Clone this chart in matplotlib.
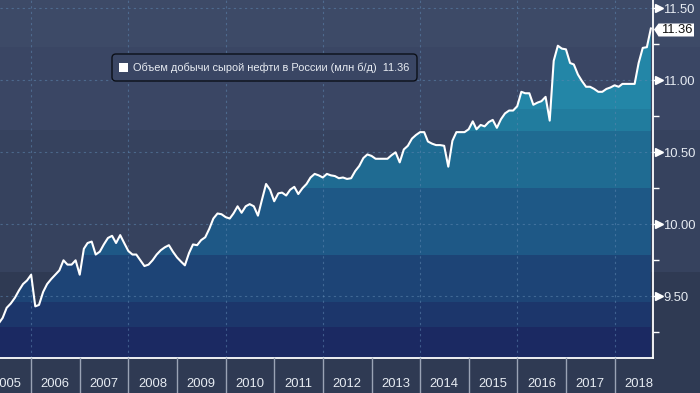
import matplotlib
matplotlib.use('Agg')
import matplotlib.pyplot as plt
import matplotlib.dates as mdates
from matplotlib.patches import Polygon, Rectangle, FancyBboxPatch
import pandas as pd
from datetime import datetime

# ---------------- data ----------------
values = [
    9.31, 9.35, 9.42, 9.45, 9.49, 9.54, 9.585, 9.61,              # 2005 Apr-Nov
    9.65, 9.43, 9.44, 9.53, 9.585, 9.62, 9.65, 9.68, 9.75, 9.72, 9.72, 9.75,
    9.65, 9.83, 9.87, 9.88, 9.79, 9.81, 9.86, 9.905, 9.92, 9.87, 9.925, 9.87,
    9.815, 9.79, 9.79, 9.75, 9.71, 9.72, 9.75, 9.79, 9.82, 9.84, 9.855, 9.81,
    9.77, 9.74, 9.715, 9.80, 9.86, 9.855, 9.89, 9.91, 9.97, 10.04, 10.075, 10.07,
    10.05, 10.04, 10.075, 10.125, 10.08, 10.125, 10.14, 10.125, 10.06, 10.17, 10.28, 10.24,
    10.16, 10.215, 10.22, 10.20, 10.24, 10.26, 10.21, 10.25, 10.28, 10.325, 10.35, 10.34,
    10.325, 10.35, 10.34, 10.335, 10.32, 10.325, 10.315, 10.32, 10.37, 10.405, 10.46, 10.485,
    10.475, 10.455, 10.455, 10.455, 10.455, 10.48, 10.50, 10.43, 10.52, 10.545, 10.595, 10.62,
    10.64, 10.64, 10.575, 10.56, 10.55, 10.55, 10.545, 10.40, 10.58, 10.64, 10.64, 10.64,
    10.66, 10.715, 10.66, 10.69, 10.68, 10.71, 10.725, 10.67, 10.73, 10.77, 10.79, 10.79,
    10.82, 10.92, 10.91, 10.91, 10.83, 10.845, 10.855, 10.885, 10.72, 11.135, 11.24, 11.22,
    11.215, 11.12, 11.11, 11.04, 10.995, 10.955, 10.955, 10.94, 10.92, 10.92, 10.94, 10.95,
    10.965, 10.955, 10.975, 10.975, 10.975, 10.975, 11.12, 11.225, 11.23, 11.36,
]
# month-end dates, Apr 2005 .. Sep 2018
dates = pd.date_range('2005-05-01', periods=len(values), freq='MS') - pd.Timedelta(days=1)

year_labels = list(range(2005, 2019))
y_ticks = [9.50, 10.00, 10.50, 11.00, 11.50]
y_tick_labels = ['9.50', '10.00', '10.50', '11.00', '11.50']
y_minor = [9.25, 9.75, 10.25, 10.75, 11.25]
series_label = 'Объем добычи сырой нефти в России (млн б/д)'
last_label = '11.36'

# ---------------- styling ----------------
W, H = 700, 393
FONT = ['Liberation Sans', 'DejaVu Sans']
plt.rcParams['font.family'] = FONT

fig = plt.figure(figsize=(7.0, 3.93), dpi=100)
fig.patch.set_facecolor('#2f3a53')


def fy(py):
    return 1 - py / H


# background bands (whole figure width)
bg_bands = [(0, 47, '#3d4a67'), (47, 130, '#3a4664'), (130, 272, '#36425e'), (272, 393, '#2f3a53')]
for top, bot, c in bg_bands:
    fig.add_artist(Rectangle((0, fy(bot)), 1, (bot - top) / H, transform=fig.transFigure,
                             facecolor=c, edgecolor='none', zorder=-10))

ax = fig.add_axes([0, fy(358), 653 / W, 358 / H])
ax.patch.set_alpha(0)

ylim = (9.0715, 11.5576)
xlim = (mdates.date2num(datetime(2005, 5, 11)), mdates.date2num(datetime(2018, 10, 16)))

xn = mdates.date2num(dates)

# area fill, banded colours clipped to the area under the line
verts = [(xn[0], ylim[0] - 1)] + list(zip(xn, values)) + [(xn[-1], ylim[0] - 1)]
clip = Polygon(verts, closed=True, facecolor='none', edgecolor='none')
ax.add_patch(clip)
fill_bands = [(10.80, 12.0, '#2386a7'), (10.647, 10.80, '#217c9e'), (10.252, 10.647, '#1f6b92'),
              (9.787, 10.252, '#1e5886'), (9.461, 9.787, '#1d4476'), (9.287, 9.461, '#1c366b'),
              (8.5, 9.287, '#1b2962')]
for lo, hi, c in fill_bands:
    span = ax.axhspan(lo, hi, facecolor=c, edgecolor='none', zorder=1)
    span.set_clip_path(clip)

# dotted grid
grid_kw = dict(color='#5d86b0', lw=0.8, ls=(0, (2, 3)), alpha=0.55, zorder=2)
for v in y_ticks:
    ax.axhline(v, **grid_kw)
for yr in range(2006, 2019, 2):
    ax.axvline(mdates.date2num(datetime(yr, 1, 1)), **grid_kw)

# the line
ax.plot(xn, values, color='white', lw=1.5, zorder=4, solid_joinstyle='round')

ax.set_xlim(*xlim)
ax.set_ylim(*ylim)

for s in ['top', 'left']:
    ax.spines[s].set_visible(False)
for s in ['right', 'bottom']:
    ax.spines[s].set_color('white')
    ax.spines[s].set_linewidth(1.3)
    ax.spines[s].set_zorder(5)

# y axis on the right
ax.yaxis.tick_right()
ax.set_yticks(y_ticks)
ax.set_yticklabels(y_tick_labels)
ax.set_yticks(y_minor, minor=True)
ax.tick_params(axis='y', which='major', length=0, pad=7.5, labelsize=9.4, labelcolor='#e6ebf2')
ax.tick_params(axis='y', which='minor', length=4.5, width=1, color='white', direction='out')
ax.set_xticks([])

ytr = ax.get_yaxis_transform()
ax.plot([1 + 6 / 653] * len(y_ticks), y_ticks, ls='none', marker='>', ms=5.5, color='white',
        transform=ytr, clip_on=False, zorder=6)
for v in y_ticks:
    ax.plot([1, 1 + 6 / 653], [v, v], color='white', lw=1, transform=ytr, clip_on=False, zorder=6)

# x axis: year separators and centred year labels
xtr = ax.get_xaxis_transform()
for yr in year_labels[1:]:
    xv = mdates.date2num(datetime(yr, 1, 1))
    ax.plot([xv, xv], [0, -36 / 358], color='#9aa3b5', lw=1, transform=xtr, clip_on=False, zorder=6)
for yr in year_labels:
    xv = mdates.date2num(datetime(yr, 7, 1))
    ax.text(xv, -(384 - 358) / 358, str(yr), transform=xtr, ha='center', va='center',
            fontsize=9.4, color='#e6ebf2', clip_on=False)

# legend box
pxin = fig.dpi_scale_trans
leg = FancyBboxPatch((112 / 100, (393 - 81) / 100), 305 / 100, 27 / 100,
                     boxstyle='round,pad=0,rounding_size=0.04', transform=pxin,
                     facecolor='#3a4664', edgecolor='#0c1018', lw=1.0, zorder=10)
fig.add_artist(leg)
fig.add_artist(Rectangle((119 / 100, (393 - 72) / 100), 9 / 100, 9 / 100, transform=pxin,
                         facecolor='white', edgecolor='none', zorder=11))
fig.text(133 / W, fy(67.5), series_label + '  ' + last_label, fontsize=7.95, color='#e8ecf2',
         ha='left', va='center', zorder=12)

# last value tag on the right axis
tag = [(654, 29.5), (658.5, 23.5), (694, 23.5), (694, 36.5), (658.5, 36.5)]
fig.add_artist(Polygon([(x / 100, (393 - y) / 100) for x, y in tag], closed=True, transform=pxin,
                       facecolor='white', edgecolor='none', zorder=10))
fig.text(677 / W, fy(30.3), last_label, fontsize=9.4, color='#111111', ha='center', va='center',
         zorder=12)

fig.savefig('out.png', dpi=100, facecolor=fig.get_facecolor())
